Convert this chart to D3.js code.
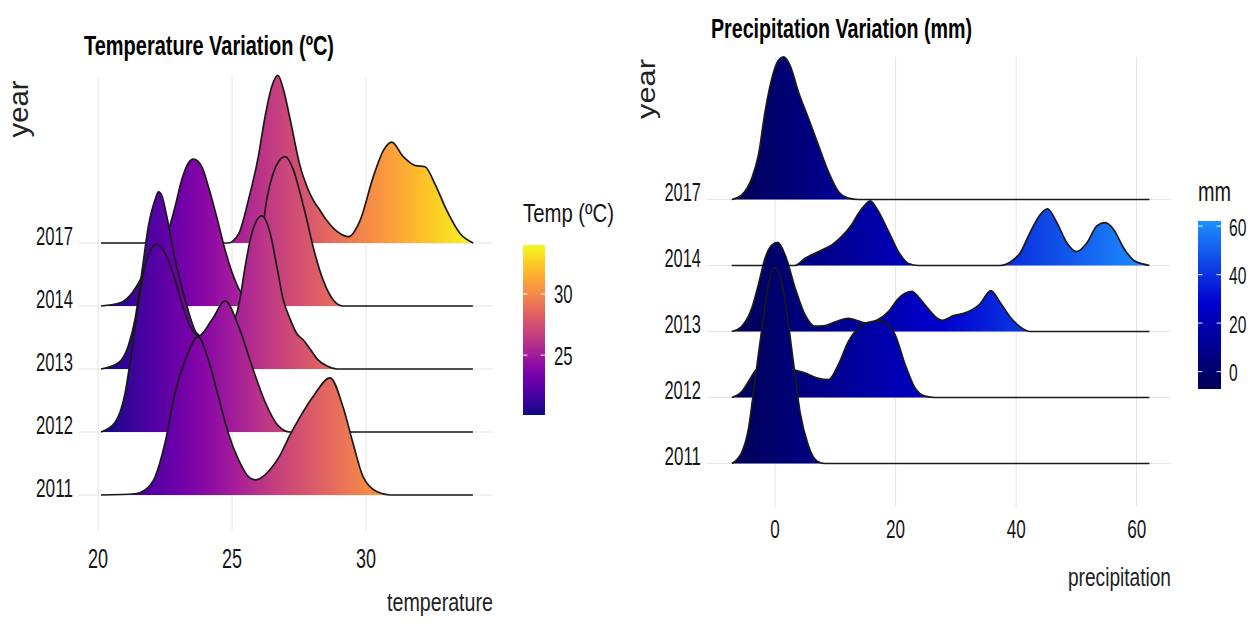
<!DOCTYPE html>
<html>
<head>
<meta charset="utf-8">
<script src="https://cdn.jsdelivr.net/npm/d3@7"></script>
<style>
  html, body { margin: 0; padding: 0; background: #fff; }
  text { font-family: "Liberation Sans", Arial, sans-serif; }
</style>
</head>
<body>
<svg id="chart" width="1255" height="624"></svg>
<script>
// years, bottom row first
var years = ["2011", "2012", "2013", "2014", "2017"];

// temperature ridges: [temperature, ridge height in row units]
var temp2011 = [[20.11,0],[21.38,0.02],[21.75,0.08],[22.13,0.29],[22.50,0.83],[22.87,1.62],[23.25,2.14],[23.73,2.51],[24.12,2.14],[24.49,1.56],[24.86,0.98],[25.24,0.56],[25.61,0.29],[25.86,0.24],[26.23,0.32],[26.49,0.44],[26.79,0.63],[27.16,0.95],[27.54,1.24],[28.02,1.56],[28.66,1.86],[29.14,1.40],[29.51,0.83],[29.89,0.29],[30.41,0.05],[30.90,0],[33.99,0]];
var temp2012 = [[20.11,0],[20.63,0.15],[21.01,0.62],[21.26,1.30],[21.51,2.05],[21.75,2.63],[22.06,2.95],[22.19,2.98],[22.56,2.79],[22.87,2.42],[23.12,2.05],[23.43,1.68],[23.74,1.52],[24.25,1.78],[24.74,2.08],[25.24,1.68],[25.74,1.05],[26.23,0.48],[26.72,0.10],[27.16,0],[33.99,0]];
var temp2013 = [[20.11,0],[20.76,0.10],[21.13,0.37],[21.38,0.79],[21.63,1.52],[21.88,2.27],[22.13,2.69],[22.25,2.81],[22.38,2.75],[22.56,2.43],[22.87,1.74],[23.25,1.10],[23.68,0.57],[24.25,0.44],[24.78,0.60],[25.18,0.89],[25.29,1.10],[25.49,1.63],[25.74,2.16],[26.11,2.43],[26.42,2.16],[26.67,1.63],[26.91,1.10],[27.16,0.80],[27.42,0.56],[27.66,0.46],[27.91,0.32],[28.20,0.15],[28.53,0.05],[28.92,0],[33.99,0]];
var temp2014 = [[20.11,0],[20.88,0.06],[21.26,0.20],[21.75,0.55],[22.24,0.95],[22.69,1.29],[22.87,1.57],[23.12,2.00],[23.37,2.27],[23.56,2.33],[23.87,2.21],[24.12,1.89],[24.43,1.41],[24.74,0.89],[25.11,0.41],[25.41,0.18],[25.67,0.16],[25.90,0.45],[26.11,1.10],[26.29,1.68],[26.54,2.11],[26.75,2.30],[26.98,2.37],[27.29,2.16],[27.54,1.79],[27.79,1.37],[28.02,0.95],[28.40,0.41],[28.77,0.10],[29.14,0],[33.99,0]];
var temp2017 = [[20.11,0],[24.85,0],[25.24,0.14],[25.61,0.68],[25.98,1.37],[26.23,2.00],[26.48,2.48],[26.71,2.66],[26.94,2.40],[27.16,1.98],[27.54,1.22],[27.79,0.90],[28.03,0.68],[28.28,0.52],[28.53,0.36],[29.03,0.15],[29.34,0.10],[29.78,0.36],[30.27,1.05],[30.65,1.47],[30.96,1.60],[31.39,1.37],[31.83,1.23],[32.20,1.21],[32.57,0.94],[33.01,0.52],[33.51,0.15],[34.00,0]];
var tempTicks = [20, 25, 30];
var tempLegendTicks = [25, 30];

// precipitation ridges: [mm, ridge height in row units]
var prec2011 = [[-7.19,0],[-5.53,0.17],[-4.43,0.52],[-3.32,1.27],[-2.21,2.03],[-1.11,2.70],[-0.12,2.97],[0.83,2.84],[1.94,2.29],[3.04,1.53],[4.15,0.77],[5.53,0.27],[6.92,0.04],[8.30,0],[62.12,0]];
var prec2012 = [[-7.19,0],[-5.53,0.09],[-4.43,0.24],[-3.32,0.40],[-1.66,0.55],[0,0.60],[1.66,0.52],[2.77,0.44],[4.98,0.37],[7.19,0.29],[8.85,0.27],[10.51,0.50],[12.17,0.85],[13.83,1.05],[16.05,1.15],[17.43,1.16],[18.80,1.10],[19.92,0.95],[21.58,0.50],[23.24,0.14],[24.90,0.02],[26.56,0],[62.12,0]];
var prec2013 = [[-7.19,0],[-5.53,0.08],[-3.87,0.35],[-2.77,0.71],[-1.66,1.11],[-0.55,1.31],[0.45,1.35],[1.66,1.16],[3.32,0.66],[4.98,0.25],[6.64,0.08],[8.30,0.09],[10.10,0.15],[12.17,0.20],[13.78,0.16],[14.94,0.13],[16.60,0.16],[18.80,0.30],[20.46,0.50],[21.58,0.58],[22.69,0.61],[23.73,0.53],[24.90,0.40],[27.10,0.19],[27.80,0.17],[29.59,0.24],[31.80,0.29],[34.02,0.42],[35.80,0.62],[37.34,0.44],[39.00,0.22],[40.66,0.07],[42.32,0],[62.12,0]];
var prec2014 = [[-7.19,0],[3.32,0],[4.98,0.11],[7.19,0.21],[9.41,0.31],[11.07,0.44],[12.73,0.62],[13.83,0.79],[14.94,0.92],[15.77,0.98],[17.15,0.82],[18.80,0.52],[20.46,0.21],[22.12,0.03],[23.78,0],[37.34,0],[39.00,0.05],[40.66,0.19],[42.32,0.50],[43.98,0.77],[45.19,0.86],[46.76,0.65],[48.42,0.34],[50.07,0.21],[51.73,0.34],[53.39,0.60],[54.77,0.65],[56.15,0.55],[57.81,0.27],[59.47,0.08],[61.13,0.02],[62.12,0]];
var prec2017 = [[-7.19,0],[-5.53,0.07],[-3.87,0.32],[-2.77,0.67],[-1.66,1.33],[-0.55,1.83],[0.55,2.11],[1.38,2.16],[2.49,2.03],[3.87,1.63],[5.53,1.23],[7.19,0.82],[8.85,0.42],[10.51,0.12],[12.17,0.02],[13.80,0],[62.12,0]];
var precTicks = [0, 20, 40, 60];
var precLegendTicks = [0, 20, 40, 60];
var precColors = ["#000055", "#0000d0", "#1e90ff"];
var precColorMid = 28;

var svg = d3.select("#chart");
var defs = svg.append("defs");

function label(g, s, o) {
  var t = g.append("text")
    .attr("x", o.x).attr("y", o.y)
    .attr("font-size", o.size)
    .attr("text-anchor", o.anchor || "start")
    .attr("fill", o.color || "#151515")
    .text(s);
  if (o.bold) t.attr("font-weight", "bold");
  if (o.w) t.attr("textLength", o.w).attr("lengthAdjust", "spacingAndGlyphs");
  if (o.rotate) t.attr("transform", "rotate(-90," + o.x + "," + o.y + ")");
  return t;
}

function drawPanel(p) {
  var g = svg.append("g");
  var x = d3.scaleLinear().domain(p.xDomain).range([p.left, p.right]);
  var y = d3.scalePoint().domain(years).range([p.bottomBase, p.topBase]);
  var h = d3.scaleLinear().domain([0, 1]).range([0, y.step()]);
  var all = [].concat.apply([], years.map(function(yr) { return p.series[yr]; }));
  var ext = d3.extent(all, function(d) { return d[0]; });
  var color = p.colorFor(ext);

  // grid
  g.selectAll(".vgrid").data(p.ticks).enter().append("line")
    .attr("x1", function(d) { return x(d); }).attr("x2", function(d) { return x(d); })
    .attr("y1", p.gridTop).attr("y2", p.gridBottom)
    .attr("stroke", "#e4e4e4").attr("stroke-width", 1);
  g.selectAll(".hgrid").data(years).enter().append("line")
    .attr("x1", p.left).attr("x2", p.right)
    .attr("y1", function(d) { return y(d); }).attr("y2", function(d) { return y(d); })
    .attr("stroke", "#e4e4e4").attr("stroke-width", 1);

  // horizontal gradient for ridge fill
  var grad = defs.append("linearGradient").attr("id", p.id + "-fill")
    .attr("gradientUnits", "userSpaceOnUse")
    .attr("x1", x(ext[0])).attr("x2", x(ext[1])).attr("y1", 0).attr("y2", 0);
  d3.range(0, 1.0001, 0.05).forEach(function(t) {
    grad.append("stop").attr("offset", t).attr("stop-color", color(ext[0] + t * (ext[1] - ext[0])));
  });

  // ridges, top row first so lower rows overlap
  years.slice().reverse().forEach(function(yr) {
    var base = y(yr);
    var area = d3.area()
      .x(function(d) { return x(d[0]); })
      .y0(base)
      .y1(function(d) { return base - h(d[1]); })
      .curve(d3.curveMonotoneX);
    var line = d3.line()
      .x(function(d) { return x(d[0]); })
      .y(function(d) { return base - h(d[1]); })
      .curve(d3.curveMonotoneX);
    g.append("path").datum(p.series[yr]).attr("d", area).attr("fill", "url(#" + p.id + "-fill)");
    g.append("path").datum(p.series[yr]).attr("d", line)
      .attr("fill", "none").attr("stroke", "#1a1a1a").attr("stroke-width", 1.7);
  });

  // year labels
  years.forEach(function(yr) {
    label(g, yr, { x: p.yearX, y: y(yr) + p.yearDy, size: p.yearSize, anchor: "end", w: p.yearW });
  });
  // x tick labels
  p.ticks.forEach(function(t) {
    var s = String(t);
    label(g, s, { x: x(t), y: p.tickY, size: p.tickSize, anchor: "middle", w: s.length * p.digitW });
  });

  label(g, p.title, { x: p.titleX, y: p.titleY, size: p.titleSize, bold: true, color: "#000", w: p.titleW });
  label(g, "year", { x: p.yLabX, y: p.yLabY, size: p.yLabSize, anchor: "middle", rotate: true, w: p.yLabW, color: "#222" });
  label(g, p.xTitle, { x: p.right, y: p.xTitleY, size: p.xTitleSize, anchor: "end", w: p.xTitleW, color: "#222" });

  // colour bar legend
  var L = p.legend;
  var ls = d3.scaleLinear().domain(ext).range([L.bottom, L.top]);
  var lg = defs.append("linearGradient").attr("id", p.id + "-bar")
    .attr("x1", 0).attr("x2", 0).attr("y1", 1).attr("y2", 0);
  d3.range(0, 1.0001, 0.05).forEach(function(t) {
    lg.append("stop").attr("offset", t).attr("stop-color", color(ext[0] + t * (ext[1] - ext[0])));
  });
  g.append("rect").attr("x", L.x).attr("y", L.top).attr("width", L.w).attr("height", L.bottom - L.top)
    .attr("fill", "url(#" + p.id + "-bar)");
  L.ticks.forEach(function(t) {
    var ty = ls(t);
    [[L.x, L.x + 4.5], [L.x + L.w - 4.5, L.x + L.w]].forEach(function(seg) {
      g.append("line").attr("x1", seg[0]).attr("x2", seg[1]).attr("y1", ty).attr("y2", ty)
        .attr("stroke", "#fff").attr("stroke-opacity", 0.8).attr("stroke-width", 1.2);
    });
    var s = String(t);
    label(g, s, { x: L.x + L.w + L.labelGap, y: ty + 9.5, size: L.labelSize, w: s.length * L.digitW });
  });
  label(g, L.title, { x: L.x, y: L.titleY, size: L.titleSize, w: L.titleW });
}

drawPanel({
  id: "temp",
  series: { "2011": temp2011, "2012": temp2012, "2013": temp2013, "2014": temp2014, "2017": temp2017 },
  ticks: tempTicks,
  xDomain: [19.25, 34.74], left: 78, right: 493,
  bottomBase: 495, topBase: 243,
  gridTop: 77, gridBottom: 530,
  colorFor: function(ext) { return d3.scaleSequential(d3.interpolatePlasma).domain(ext); },
  yearX: 73, yearDy: 2, yearSize: 25, yearW: 37,
  tickY: 568, tickSize: 27, digitW: 10,
  title: "Temperature Variation (ºC)", titleX: 84, titleY: 55, titleSize: 28, titleW: 250,
  yLabX: 28, yLabY: 109, yLabSize: 27, yLabW: 57,
  xTitle: "temperature", xTitleY: 611, xTitleSize: 26, xTitleW: 106,
  legend: { x: 523, w: 22, top: 245, bottom: 415, ticks: tempLegendTicks, labelSize: 25,
            labelGap: 9, digitW: 9.3,
            title: "Temp (ºC)", titleY: 222, titleSize: 25, titleW: 91 }
});

drawPanel({
  id: "prec",
  series: { "2011": prec2011, "2012": prec2012, "2013": prec2013, "2014": prec2014, "2017": prec2017 },
  ticks: precTicks,
  xDomain: [-11.3, 65.7], left: 707, right: 1171,
  bottomBase: 463.5, topBase: 199.5,
  gridTop: 57, gridBottom: 507,
  colorFor: function(ext) {
    return d3.scaleLinear().domain([ext[0], precColorMid, ext[1]]).range(precColors);
  },
  yearX: 701, yearDy: 1, yearSize: 26, yearW: 36.5,
  tickY: 538, tickSize: 25, digitW: 9.5,
  title: "Precipitation Variation (mm)", titleX: 711, titleY: 38, titleSize: 27, titleW: 261,
  yLabX: 655, yLabY: 89, yLabSize: 25, yLabW: 60,
  xTitle: "precipitation", xTitleY: 586, xTitleSize: 26, xTitleW: 103,
  legend: { x: 1198, w: 23, top: 221, bottom: 389, ticks: precLegendTicks, labelSize: 24,
            labelGap: 8, digitW: 8.7,
            title: "mm", titleY: 201, titleSize: 28, titleW: 33 }
});
</script>
</body>
</html>
